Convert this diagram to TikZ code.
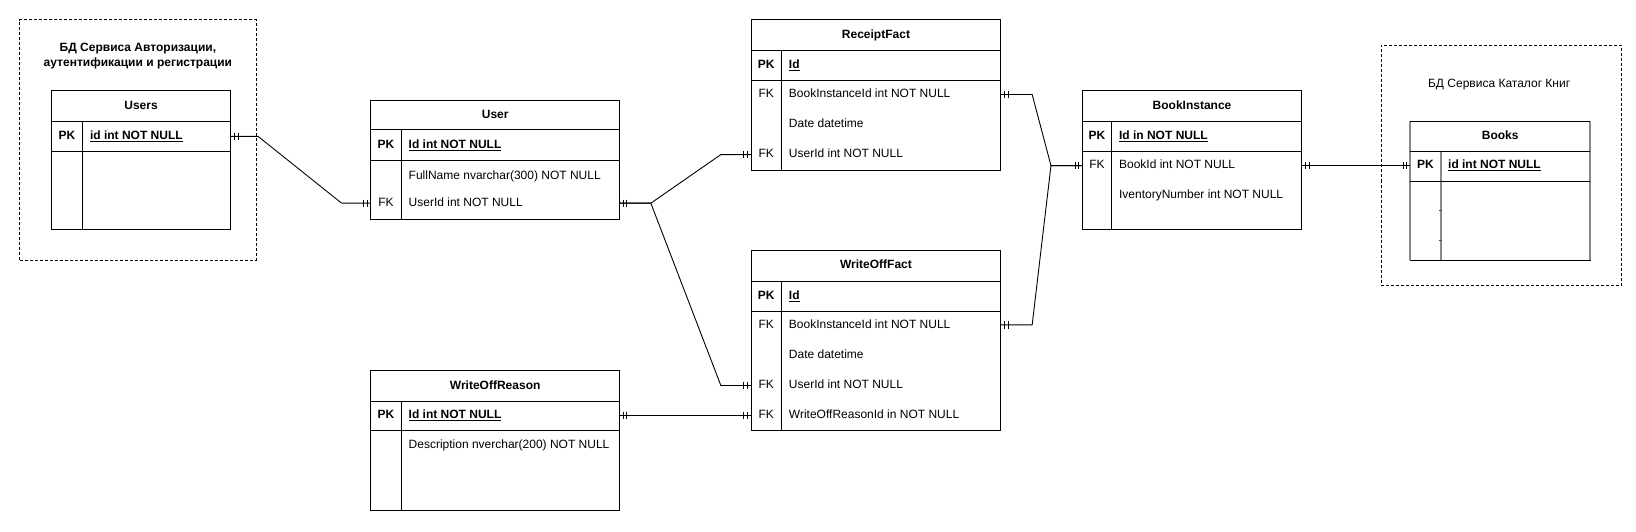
\documentclass[tikz,border=0pt]{standalone}
\usepackage{fontspec}
\setmainfont{Liberation Sans}
\definecolor{sidegray}{HTML}{888888}
\definecolor{tickgray}{HTML}{444444}
\newcommand\fs{\fontsize{12}{15}\selectfont}
\newcommand\ertable[9]{%
  \node[tblbox, anchor=north west, minimum width={(#4-#2)*1.0447}, minimum height={(#5-#3)*1.0447}] (#1) at (#2,#3) {};
  \draw[tblline] (#2,#7) -- (#4,#7) (#2,#8) -- (#4,#8) (#6,#7) -- (#6,#5);
  \node[hdrtext] (#1-title) at ({(#2+#4)/2},{(#3+#7)/2}) {#9};
}
\newcommand\errow[7]{%
  \node[keytext] (#1-#2-key) at ({(#3+#4)/2},#5) {#6};
  \node[fieldtext] (#1-#2) at ({#4+7},#5) {#7};
}
\begin{document}
\begin{tikzpicture}[x=1.0447pt,y=-1.0447pt,
  tblbox/.style={draw, line width=1pt, rectangle, inner sep=0pt, outer sep=0pt},
  tblline/.style={line width=1pt},
  dashbox/.style={draw, line width=0.8pt, dash pattern=on 3pt off 2pt, rectangle, inner sep=0pt, outer sep=0pt},
  hdrtext/.style={font=\fs\bfseries, inner sep=0pt, text height=8.6pt, text depth=2.4pt},
  keytext/.style={font=\fs, inner sep=0pt, text height=8.6pt, text depth=2.4pt},
  fieldtext/.style={font=\fs, anchor=west, inner sep=0pt, text height=8.6pt, text depth=2.4pt},
  greyside/.style={draw=sidegray, line width=2pt},
  conn/.style={line width=0.9pt},
  barsE/.pic={\draw[conn] (3.5,-3.5) -- (3.5,3.5) (7,-3.5) -- (7,3.5);},
  barsW/.pic={\draw[conn] (-3.5,-3.5) -- (-3.5,3.5) (-7,-3.5) -- (-7,3.5);}]
\useasboundingbox (0,0) rectangle (1566,508.3);

% dashed service boxes
\node[dashbox, anchor=north west, minimum width={226*1.0447}, minimum height={230*1.0447}] (authdb) at (19,19) {};
\node[font=\fs\bfseries, align=center, inner sep=0pt] (authdb-title) at (132,53.5) {БД Сервиса Авторизации,\\аутентификации и регистрации};
\node[dashbox, anchor=north west, minimum width={230*1.0447}, minimum height={230*1.0447}] (catdb) at (1322,43.4) {};
\node[font=\fs, inner sep=0pt] (catdb-title) at (1435,81.4) {БД Сервиса Каталог Книг};

% tables
\ertable{users}{49}{87}{221}{220}{79}{116}{145}{Users}
\errow{users}{pk}{49}{79}{130.5}{\textbf{PK}}{\textbf{\underline{id int NOT NULL}}}

\ertable{user}{355}{96}{593}{210.5}{384}{124}{153.5}{User}
\errow{user}{pk}{355}{384}{139}{\textbf{PK}}{\textbf{\underline{Id int NOT NULL}}}
\errow{user}{fn}{355}{384}{168.5}{}{FullName nvarchar(300) NOT NULL}
\errow{user}{uid}{355}{384}{194.5}{FK}{UserId int NOT NULL}

\ertable{rf}{719}{19}{958}{163}{748}{48}{77}{ReceiptFact}
\errow{rf}{pk}{719}{748}{62.5}{\textbf{PK}}{\textbf{\underline{Id}}}
\errow{rf}{bi}{719}{748}{90.5}{FK}{BookInstanceId int NOT NULL}
\errow{rf}{date}{719}{748}{119}{}{Date datetime}
\errow{rf}{uid}{719}{748}{148}{FK}{UserId int NOT NULL}

\ertable{bi}{1036}{87}{1246}{220}{1064}{116}{145}{BookInstance}
\errow{bi}{pk}{1036}{1064}{130.5}{\textbf{PK}}{\textbf{\underline{Id in NOT NULL}}}
\errow{bi}{bid}{1036}{1064}{158.5}{FK}{BookId int NOT NULL}
\errow{bi}{inv}{1036}{1064}{187}{}{IventoryNumber int NOT NULL}

\ertable{books}{1350}{116}{1522}{249}{1379}{145}{174}{Books}
\errow{books}{pk}{1350}{1379}{158.5}{\textbf{PK}}{\textbf{\underline{id int NOT NULL}}}
\draw[greyside] (books.north west) -- (books.south west);
\draw[greyside] (books.north east) -- (books.south east);
\draw[greyside] (1379,145) -- (1379,249);
\draw[line width=1pt] (books.north west) -- (books.north east) (books.south west) -- (books.south east)
  (1350,145) -- (1522,145) (1350,174) -- (1522,174);
\draw[draw=tickgray, line width=1pt] (1377.5,201.3) -- (1380.5,201.3) (1377.5,230) -- (1380.5,230);

\ertable{wf}{719}{240}{958}{412}{748}{269}{298}{WriteOffFact}
\errow{wf}{pk}{719}{748}{283.5}{\textbf{PK}}{\textbf{\underline{Id}}}
\errow{wf}{bi}{719}{748}{311}{FK}{BookInstanceId int NOT NULL}
\errow{wf}{date}{719}{748}{340}{}{Date datetime}
\errow{wf}{uid}{719}{748}{369}{FK}{UserId int NOT NULL}
\errow{wf}{wor}{719}{748}{397.5}{FK}{WriteOffReasonId in NOT NULL}

\ertable{wr}{355}{355}{593}{489}{384}{384}{412}{WriteOffReason}
\errow{wr}{pk}{355}{384}{397.5}{\textbf{PK}}{\textbf{\underline{Id int NOT NULL}}}
\errow{wr}{desc}{355}{384}{426}{}{Description nverchar(200) NOT NULL}

% connectors
\draw[conn] (users.east |- users-pk) -- (247,130.5) -- (327,194.5) -- (user.west |- user-uid);
\draw[conn] (user.east |- user-uid) -- (623,194.5) -- (690,148) -- (rf.west |- rf-uid);
\draw[conn] (user.east |- user-uid) -- (623,194.5) -- (690,369) -- (wf.west |- wf-uid);
\draw[conn] (rf.east |- rf-bi) -- (988,90.5) -- (1006,158.5) -- (bi.west |- bi-bid);
\draw[conn] (wf.east |- wf-bi) -- (988,311) -- (1006,158.5) -- (bi.west |- bi-bid);
\draw[conn] (bi.east |- bi-bid) -- (books.west |- books-pk);
\draw[conn] (wr.east |- wr-pk) -- (wf.west |- wf-wor);

% cardinality marks (one and only one)
\path (users.east |- users-pk) pic{barsE};
\path (user.west |- user-uid) pic{barsW};
\path (user.east |- user-uid) pic{barsE};
\path (rf.west |- rf-uid) pic{barsW};
\path (wf.west |- wf-uid) pic{barsW};
\path (rf.east |- rf-bi) pic{barsE};
\path (wf.east |- wf-bi) pic{barsE};
\path (bi.west |- bi-bid) pic{barsW};
\path (bi.east |- bi-bid) pic{barsE};
\path (books.west |- books-pk) pic{barsW};
\path (wr.east |- wr-pk) pic{barsE};
\path (wf.west |- wf-wor) pic{barsW};
\end{tikzpicture}
\end{document}
